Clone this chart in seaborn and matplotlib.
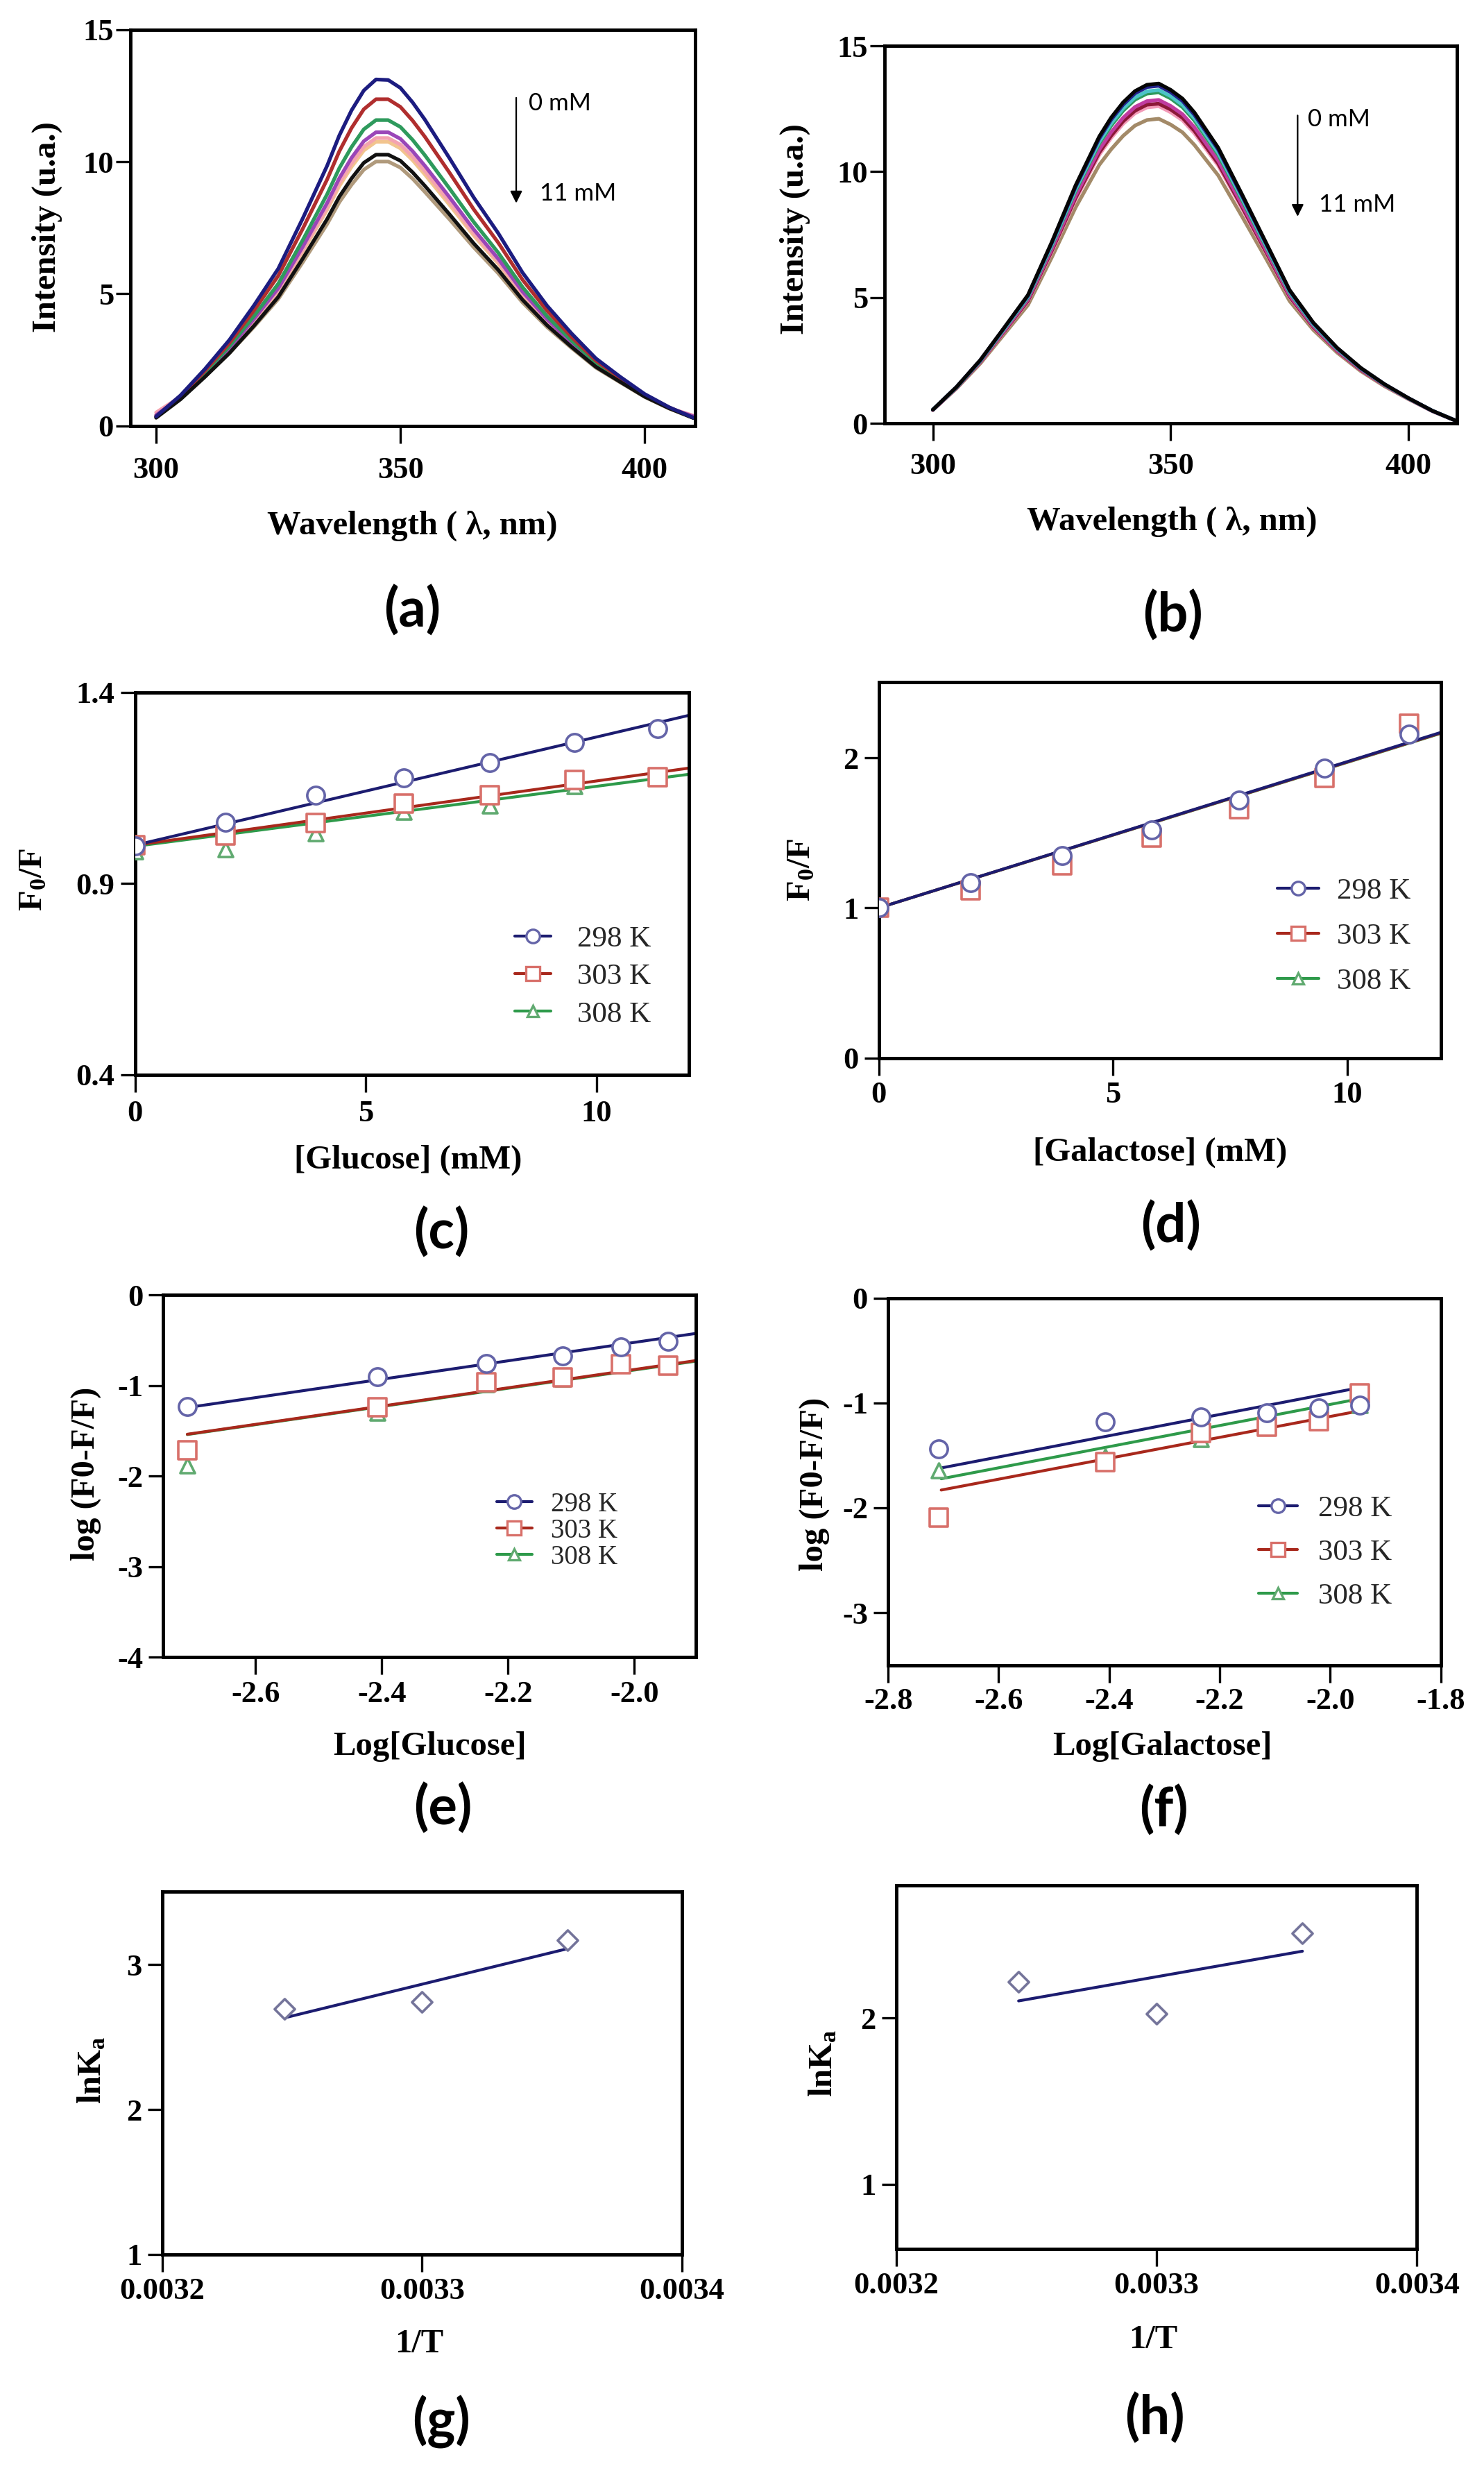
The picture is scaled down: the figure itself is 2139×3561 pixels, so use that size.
import numpy as np
import pandas as pd
import matplotlib
matplotlib.use("Agg")
import matplotlib.pyplot as plt
import seaborn as sns
from matplotlib.lines import Line2D

sns.set_theme(style="ticks")
plt.rcParams["font.family"] = ["Liberation Serif", "DejaVu Serif"]
plt.rcParams["axes.unicode_minus"] = False
plt.rcParams["mathtext.fontset"] = "custom"
plt.rcParams["mathtext.rm"] = "Liberation Serif:bold"
plt.rcParams["mathtext.it"] = "Liberation Serif:bold"
plt.rcParams["mathtext.bf"] = "Liberation Serif:bold"

# ---------------- data ----------------
WL = [300, 305, 310, 315, 320, 325, 330, 335, 337.5, 340, 342.5, 345, 347.5, 350, 352.5, 355,
      360, 365, 370, 375, 380, 385, 390, 395, 400, 405, 410]

# (a) glucose quenching spectra, 0 mM -> 11 mM
a_navy = [0.35, 1.15, 2.15, 3.25, 4.55, 5.95, 7.85, 9.85, 11.0, 11.95, 12.7, 13.12, 13.1, 12.8, 12.25, 11.6,
          10.15, 8.65, 7.3, 5.8, 4.55, 3.5, 2.55, 1.85, 1.2, 0.7, 0.3]
a_red = [0.35, 1.12, 2.08, 3.13, 4.36, 5.68, 7.46, 9.33, 10.40, 11.28, 11.99, 12.37, 12.37, 12.08, 11.56, 10.95,
         9.60, 8.20, 6.94, 5.53, 4.36, 3.37, 2.47, 1.80, 1.17, 0.69, 0.30]
a_green = [0.34, 1.10, 2.01, 3.01, 4.15, 5.38, 7.03, 8.77, 9.76, 10.56, 11.23, 11.58, 11.58, 11.32, 10.83, 10.25,
           9.00, 7.72, 6.56, 5.25, 4.15, 3.23, 2.38, 1.75, 1.15, 0.68, 0.29]
a_purple = [0.40, 1.08, 1.97, 2.93, 4.04, 5.21, 6.78, 8.44, 9.38, 10.15, 10.78, 11.12, 11.12, 10.87, 10.40, 9.85,
            8.67, 7.44, 6.33, 5.08, 4.04, 3.15, 2.33, 1.72, 1.13, 0.67, 0.35]
a_pink = [0.50, 1.10, 1.95, 2.90, 3.98, 5.13, 6.66, 8.27, 9.20, 9.94, 10.57, 10.90, 10.90, 10.65, 10.19, 9.65,
          8.50, 7.30, 6.22, 5.00, 3.98, 3.10, 2.30, 1.70, 1.12, 0.67, 0.38]
a_peach = [0.40, 1.07, 1.94, 2.87, 3.94, 5.08, 6.59, 8.18, 9.08, 9.81, 10.43, 10.76, 10.76, 10.51, 10.06, 9.52,
           8.38, 7.21, 6.15, 4.95, 3.94, 3.08, 2.28, 1.69, 1.12, 0.67, 0.30]
a_black = [0.30, 1.00, 1.85, 2.75, 3.78, 4.88, 6.33, 7.83, 8.68, 9.37, 9.96, 10.27, 10.27, 10.04, 9.60, 9.09,
           8.02, 6.91, 5.91, 4.77, 3.81, 2.99, 2.23, 1.66, 1.10, 0.66, 0.29]
a_tan = [0.33, 1.04, 1.87, 2.75, 3.74, 4.80, 6.19, 7.64, 8.47, 9.13, 9.70, 10.01, 10.01, 9.78, 9.36, 8.86,
         7.83, 6.76, 5.78, 4.67, 3.74, 2.95, 2.20, 1.64, 1.09, 0.65, 0.29]
A_CURVES = [a_tan, a_peach, a_pink, a_purple, a_green, a_red, a_black, a_navy]
A_COLORS = ["#b09a7c", "#f2c48e", "#f4a3b0", "#9a46b8", "#2e9a5c", "#b02e2e", "#111111", "#1c1c80"]

# (b) galactose quenching spectra
b_black = [0.54, 1.45, 2.52, 3.80, 5.10, 7.20, 9.45, 11.40, 12.15, 12.75, 13.20, 13.45, 13.50, 13.25, 12.90, 12.35,
           10.95, 9.10, 7.20, 5.30, 4.00, 3.00, 2.20, 1.55, 1.00, 0.50, 0.10]
b_navy = [0.54, 1.45, 2.51, 3.79, 5.07, 7.16, 9.39, 11.32, 12.07, 12.66, 13.11, 13.36, 13.41, 13.16, 12.81, 12.26,
          10.88, 9.04, 7.16, 5.27, 3.98, 2.99, 2.19, 1.55, 1.00, 0.50, 0.10]
b_cyan = [0.54, 1.44, 2.49, 3.75, 5.03, 7.09, 9.29, 11.19, 11.92, 12.51, 12.95, 13.19, 13.24, 13.00, 12.65, 12.12,
          10.75, 8.94, 7.08, 5.22, 3.94, 2.96, 2.18, 1.54, 0.99, 0.50, 0.10]
b_green = [0.54, 1.43, 2.48, 3.74, 5.00, 7.05, 9.23, 11.12, 11.83, 12.42, 12.86, 13.10, 13.15, 12.91, 12.56, 12.03,
           10.67, 8.88, 7.04, 5.19, 3.92, 2.95, 2.17, 1.53, 0.99, 0.50, 0.10]
b_magenta = [0.53, 1.42, 2.45, 3.68, 4.92, 6.92, 9.04, 10.88, 11.57, 12.14, 12.57, 12.80, 12.85, 12.61, 12.28, 11.76,
             10.44, 8.69, 6.90, 5.09, 3.86, 2.90, 2.14, 1.51, 0.98, 0.49, 0.10]
b_darkred = [0.53, 1.41, 2.44, 3.65, 4.87, 6.85, 8.95, 10.76, 11.43, 12.00, 12.42, 12.66, 12.70, 12.47, 12.14, 11.62,
             10.32, 8.60, 6.83, 5.04, 3.82, 2.88, 2.12, 1.51, 0.98, 0.49, 0.10]
b_pink = [0.53, 1.41, 2.43, 3.63, 4.84, 6.80, 8.88, 10.67, 11.34, 11.90, 12.32, 12.55, 12.60, 12.36, 12.04, 11.52,
          10.24, 8.53, 6.79, 5.01, 3.80, 2.87, 2.11, 1.50, 0.97, 0.49, 0.10]
b_tan = [0.53, 1.39, 2.38, 3.54, 4.70, 6.59, 8.57, 10.27, 10.89, 11.42, 11.83, 12.05, 12.10, 11.87, 11.56, 11.06,
         9.85, 8.22, 6.56, 4.86, 3.71, 2.81, 2.07, 1.47, 0.96, 0.49, 0.10]
B_CURVES = [b_tan, b_pink, b_darkred, b_magenta, b_green, b_cyan, b_navy, b_black]
B_COLORS = ["#a38a68", "#f29ab8", "#8c1838", "#c03ca0", "#2e9a5c", "#4cc4c8", "#22228a", "#050505"]

TEMPS = ["298 K", "303 K", "308 K"]
LINE_COLORS = ["#1c1c70", "#a8281c", "#2e9a4a"]
MARK_COLORS = ["#6464a8", "#d8706a", "#60aa70"]
MARKERS = ["o", "s", "^"]

# (c) Stern-Volmer, glucose
conc = [0, 1.96, 3.92, 5.83, 7.69, 9.52, 11.32]
c_298 = [0.999, 1.060, 1.131, 1.176, 1.216, 1.269, 1.304]
c_303 = [1.000, 1.025, 1.058, 1.108, 1.131, 1.171, 1.178]
c_308 = [0.983, 0.989, 1.030, 1.087, 1.103, 1.155, 1.176]
c_fit_intercept = [1.000, 1.000, 0.997]
c_fit_slope = [0.0283, 0.0168, 0.0157]

# (d) Stern-Volmer, galactose
d_298 = [1.000, 1.170, 1.350, 1.520, 1.720, 1.930, 2.160]
d_303 = [1.000, 1.117, 1.283, 1.469, 1.660, 1.867, 2.226]
d_308 = [1.000, 1.120, 1.290, 1.470, 1.670, 1.870, 2.210]
d_fit_intercept = [1.000, 1.000, 1.000]
d_fit_slope = [0.0975, 0.0972, 0.0970]

# (e) double log, glucose
log_conc = [-2.708, -2.407, -2.234, -2.114, -2.021, -1.946]
e_298 = [-1.231, -0.901, -0.756, -0.673, -0.571, -0.514]
e_303 = [-1.714, -1.244, -0.967, -0.910, -0.769, -0.778]
e_308 = [-1.881, -1.305, -0.985, -0.925, -0.775, -0.790]
e_fit_intercept = [1.506, 1.194, 1.180]
e_fit_slope = [1.0155, 1.009, 1.005]

# (f) double log, galactose
f_298 = [-1.437, -1.182, -1.132, -1.094, -1.045, -1.018]
f_303 = [-2.093, -1.563, -1.285, -1.228, -1.170, -0.911]
f_308 = [-1.640, -1.513, -1.342, -1.208, -1.113, -1.018]
f_fit_intercept = [1.113, 0.863, 0.999]
f_fit_slope = [1.0106, 0.996, 1.0066]

# (g), (h) van't Hoff
inv_T = [0.003247, 0.003300, 0.003356]
g_lnKa = [2.697, 2.742, 3.171]
h_lnKa = [2.217, 2.025, 2.510]

# ---------------- figure ----------------
W, H = 2139, 3561
fig = plt.figure(figsize=(W / 100, H / 100), dpi=100)
fig.patch.set_facecolor("white")

BOX = {
    "a": (187.7, 1001.8, 43, 613.5),
    "b": (1274.7, 2100, 66, 610),
    "c": (194.5, 993, 997.6, 1548.6),
    "d": (1266.5, 2076.5, 983.2, 1524.5),
    "e": (235.4, 1003, 1866, 2388.4),
    "f": (1280.2, 2076.5, 1870.6, 2399.8),
    "g": (234, 982.7, 2726, 3249),
    "h": (1291.8, 2042.4, 2716.5, 3241),
}


def make_ax(key):
    x0, x1, y0, y1 = BOX[key]
    return fig.add_axes([x0 / W, 1 - y1 / H, (x1 - x0) / W, (y1 - y0) / H])


def frac(key, px, py):
    x0, x1, y0, y1 = BOX[key]
    return (px - x0) / (x1 - x0), (y1 - py) / (y1 - y0)


TICK_FS = 32
LABEL_FS = 35


def style(ax, key, xlim, ylim, xticks, xlabels, yticks, ylabels,
          xlabel, ylabel, xl_pos, yl_pos, xpad=7, ypad=5, ylen=15):
    ax.set_xlim(xlim)
    ax.set_ylim(ylim)
    ax.set_xticks(xticks)
    ax.set_xticklabels(xlabels, fontsize=TICK_FS, fontweight="bold")
    ax.set_yticks(yticks)
    ax.set_yticklabels(ylabels, fontsize=TICK_FS, fontweight="bold")
    for s in ax.spines.values():
        s.set_linewidth(3.5)
        s.set_color("black")
        s.set_visible(True)
    ax.tick_params(axis="x", direction="out", length=18, width=2.4, pad=xpad, colors="black")
    ax.tick_params(axis="y", direction="out", length=ylen, width=2.4, pad=ypad, colors="black")
    ax.grid(False)
    ax.set_facecolor("white")
    ax.set_xlabel(xlabel, fontsize=LABEL_FS, fontweight="bold", color="black")
    ax.set_ylabel(ylabel, fontsize=LABEL_FS, fontweight="bold", color="black")
    ax.xaxis.label.set_va("center")
    ax.yaxis.label.set_va("center")
    ax.yaxis.label.set_ha("center")
    ax.xaxis.set_label_coords(*frac(key, *xl_pos))
    ax.yaxis.set_label_coords(*frac(key, *yl_pos))


def spectra(ax, curves, colors, tag):
    rows = []
    for i, cv in enumerate(curves):
        for w, v in zip(WL, cv):
            rows.append({"wl": w, "I": v, "curve": f"{tag}{i}"})
    df = pd.DataFrame(rows)
    pal = {f"{tag}{i}": c for i, c in enumerate(colors)}
    sns.lineplot(data=df, x="wl", y="I", hue="curve", palette=pal, sort=False,
                 estimator=None, linewidth=3.8, legend=False, ax=ax,
                 solid_joinstyle="round", solid_capstyle="round")


def arrow_text(ax, xa, ytop, ybot, xt0, yt0, xt1, yt1):
    ax.annotate("", xy=(xa, ybot), xytext=(xa, ytop),
                arrowprops=dict(arrowstyle="-|>", lw=1.6, color="black", mutation_scale=26))
    ax.text(xt0, yt0, "0 mM", fontsize=25, family=["Lato", "DejaVu Sans"],
            ha="left", va="center", color="black")
    ax.text(xt1, yt1, "11 mM", fontsize=25, family=["Lato", "DejaVu Sans"],
            ha="left", va="center", color="black")


def points_and_fits(ax, xs, series, intercepts, slopes, fit_x0, fit_x1, msize=330):
    for i in [2, 1, 0]:
        xx = np.array([fit_x0, fit_x1])
        sns.lineplot(x=xx, y=intercepts[i] + slopes[i] * xx, color=LINE_COLORS[i],
                     linewidth=3.0, ax=ax, zorder=2)
    for i in [2, 1, 0]:
        s = msize if MARKERS[i] != "^" else msize * 0.7
        sns.scatterplot(x=xs, y=series[i], marker=MARKERS[i], s=s, color="white",
                        edgecolor=MARK_COLORS[i], linewidth=2.6, ax=ax, zorder=3)


def legend(ax, key, px, py, spacing, hlen, hpad, fs=31):
    handles = [Line2D([], [], color=LINE_COLORS[i], lw=3.0, marker=MARKERS[i],
                      markersize=14 if MARKERS[i] != "^" else 12,
                      markerfacecolor="white", markeredgecolor=MARK_COLORS[i],
                      markeredgewidth=2.4) for i in range(3)]
    ax.legend(handles, TEMPS, loc="upper left", bbox_to_anchor=frac(key, px, py),
              frameon=False, borderaxespad=0, borderpad=0, handlelength=hlen,
              handletextpad=hpad, labelspacing=spacing,
              prop={"family": "Liberation Serif", "size": fs})


# (a)
ax = make_ax("a")
spectra(ax, A_CURVES, A_COLORS, "a")
arrow_text(ax, 373.7, 12.5, 8.36, 376.2, 12.2, 378.5, 8.8)
style(ax, "a", (294.7, 410.3), (0, 15), [300, 350, 400], ["300", "350", "400"],
      [0, 5, 10, 15], ["0", "5", "10", "15"],
      "Wavelength ( λ, nm)", "Intensity (u.a.)", (594, 758), (68, 327), xpad=14, ypad=2)

# (b)
ax = make_ax("b")
spectra(ax, B_CURVES, B_COLORS, "b")
arrow_text(ax, 376.7, 12.31, 8.14, 378.9, 12.07, 381.2, 8.68)
style(ax, "b", (289.8, 410.2), (0, 15), [300, 350, 400], ["300", "350", "400"],
      [0, 5, 10, 15], ["0", "5", "10", "15"],
      "Wavelength ( λ, nm)", "Intensity (u.a.)", (1689, 752), (1146, 330), xpad=12, ypad=2)

# (c)
ax = make_ax("c")
points_and_fits(ax, conc, [c_298, c_303, c_308], c_fit_intercept, c_fit_slope, 0, 12)
style(ax, "c", (0, 12), (0.4, 1.4), [0, 5, 10], ["0", "5", "10"],
      [0.4, 0.9, 1.4], ["0.4", "0.9", "1.4"],
      "[Glucose] (mM)", r"F$_{0}$/F", (588, 1672), (48, 1267), xpad=8, ypad=6)
legend(ax, "c", 742, 1334, 0.35, 1.2, 0.9)

# (d)
ax = make_ax("d")
points_and_fits(ax, conc, [d_298, d_303, d_308], d_fit_intercept, d_fit_slope, 0, 12)
style(ax, "d", (0, 12), (0, 2.505), [0, 5, 10], ["0", "5", "10"],
      [0, 1, 2], ["0", "1", "2"],
      "[Galactose] (mM)", r"F$_{0}$/F", (1672, 1661), (1155, 1253), xpad=6, ypad=6)
legend(ax, "d", 1841, 1265, 0.6, 1.4, 0.6)

# (e)
ax = make_ax("e")
points_and_fits(ax, log_conc, [e_298, e_303, e_308], e_fit_intercept, e_fit_slope, -2.708, -1.9025)
style(ax, "e", (-2.746, -1.9025), (-4, 0), [-2.6, -2.4, -2.2, -2.0],
      ["-2.6", "-2.4", "-2.2", "-2.0"], [-4, -3, -2, -1, 0], ["-4", "-3", "-2", "-1", "0"],
      "Log[Glucose]", "log (F0-F/F)", (619, 2517), (124, 2124), xpad=6, ypad=6)
legend(ax, "e", 716, 2150, 0.02, 1.3, 0.7, fs=28)

# (f)
ax = make_ax("f")
points_and_fits(ax, log_conc, [f_298, f_303, f_308], f_fit_intercept, f_fit_slope, -2.704, -1.946)
style(ax, "f", (-2.8, -1.8), (-3.5, 0), [-2.8, -2.6, -2.4, -2.2, -2.0, -1.8],
      ["-2.8", "-2.6", "-2.4", "-2.2", "-2.0", "-1.8"], [-3, -2, -1, 0], ["-3", "-2", "-1", "0"],
      "Log[Galactose]", "log (F0-F/F)", (1675, 2517), (1174, 2139), xpad=5, ypad=6)
legend(ax, "f", 1814, 2155, 0.55, 1.3, 0.7)

# (g)
ax = make_ax("g")
sns.regplot(x=inv_T, y=g_lnKa, ax=ax, ci=None, scatter=False, truncate=True,
            line_kws=dict(color="#1c1c70", linewidth=3.0))
sns.scatterplot(x=inv_T, y=g_lnKa, marker="D", s=220, color="white",
                edgecolor="#74749a", linewidth=2.6, ax=ax, zorder=3)
style(ax, "g", (0.0032, 0.0034), (1, 3.505), [0.0032, 0.0033, 0.0034],
      ["0.0032", "0.0033", "0.0034"], [1, 2, 3], ["1", "2", "3"],
      "1/T", r"lnK$_{\mathrm{a}}$", (604, 3378), (133, 2983), xpad=6, ypad=6)

# (h)
ax = make_ax("h")
sns.regplot(x=inv_T, y=h_lnKa, ax=ax, ci=None, scatter=False, truncate=True,
            line_kws=dict(color="#1c1c70", linewidth=3.0))
sns.scatterplot(x=inv_T, y=h_lnKa, marker="D", s=220, color="white",
                edgecolor="#74749a", linewidth=2.6, ax=ax, zorder=3)
style(ax, "h", (0.0032, 0.0034), (0.61, 2.8), [0.0032, 0.0033, 0.0034],
      ["0.0032", "0.0033", "0.0034"], [1, 2], ["1", "2"],
      "1/T", r"lnK$_{\mathrm{a}}$", (1662, 3372), (1187, 2973), xpad=6, ypad=6)

# panel letters
PANEL_TAGS = ["(a)", "(b)", "(c)", "(d)", "(e)", "(f)", "(g)", "(h)"]
TAG_POS = [(594, 880), (1691, 887), (636, 1776), (1688, 1767),
           (638, 2606), (1677, 2609), (636, 3490), (1664, 3485)]
for t, (px, py) in zip(PANEL_TAGS, TAG_POS):
    fig.text(px / W, 1 - py / H, t, ha="center", va="center", fontsize=56,
             family=["Lato", "DejaVu Sans"], fontweight="bold", color="black")

fig.savefig("out.png", dpi=100, facecolor="white")
